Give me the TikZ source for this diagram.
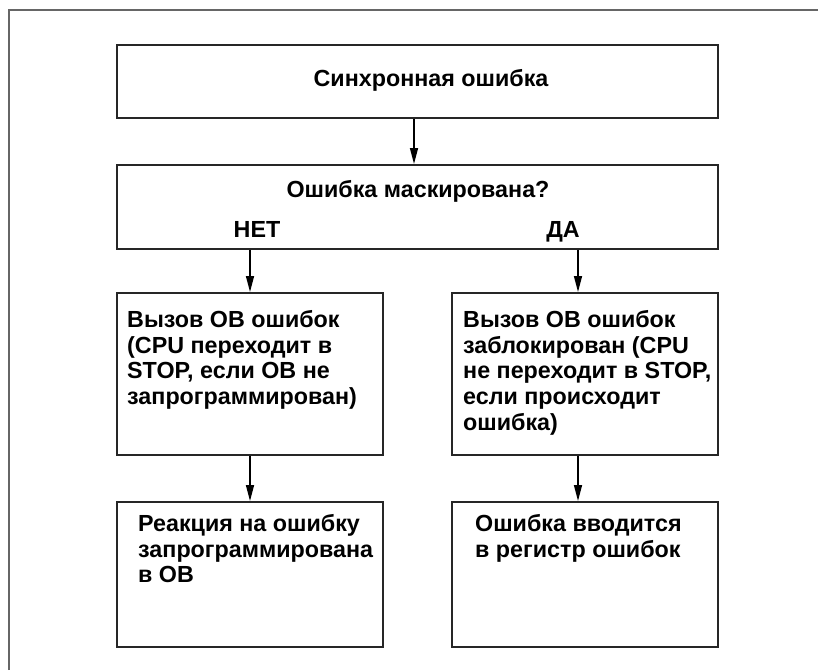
\documentclass[tikz,border=0pt]{standalone}
\usepackage{fontspec}
\setmainfont{Liberation Sans}
\usetikzlibrary{arrows.meta}
\begin{document}
\begin{tikzpicture}[x=1pt,y=-1pt,
  box/.style={draw=black!85, line width=1.6pt, rectangle, inner sep=0pt, anchor=north west},
  txt/.style={inner sep=0pt, anchor=north west, align=left, font=\fontsize{23.3}{25.8}\selectfont\bfseries},
  ctxt/.style={inner sep=0pt, anchor=base, font=\fontsize{23.3}{25.8}\selectfont\bfseries},
  arr/.style={line width=1.5pt, -{Triangle[length=16pt,width=8pt]}},
  frame/.style={draw=black!60, line width=1.2pt}]
\useasboundingbox (0,0) rectangle (818,670);
\draw[frame] (9,670) -- (9,10) -- (818,10);
% boxes
\node[box, minimum width=601pt, minimum height=73pt] (s) at (116,44) {};
\node[box, minimum width=601pt, minimum height=84pt] (q) at (116,164) {};
\node[box, minimum width=266pt, minimum height=162pt] (b1) at (116,292) {};
\node[box, minimum width=266pt, minimum height=162pt] (b2) at (451,292) {};
\node[box, minimum width=266pt, minimum height=145pt] (c1) at (116,501) {};
\node[box, minimum width=266pt, minimum height=145pt] (c2) at (451,501) {};
% texts
\node[ctxt] (ts) at (431,86) {Синхронная ошибка};
\node[ctxt] (tq) at (418,197) {Ошибка маскирована?};
\node[ctxt] (tn) at (257,237) {НЕТ};
\node[ctxt] (td) at (563,237) {ДА};
\node[txt] (t1) at (127,310) {Вызов ОВ ошибок\\(CPU переходит в\\STOP, если ОВ не\\запрограммирован)};
\node[txt] (t2) at (463,310) {Вызов ОВ ошибок\\заблокирован (CPU\\не переходит в STOP,\\если происходит\\ошибка)};
\node[txt] (t3) at (138,514) {Реакция на ошибку\\запрограммирована\\в ОВ};
\node[txt] (t4) at (475,514) {Ошибка вводится\\в регистр ошибок};
% arrows
\coordinate (ta) at (414,0);
\coordinate (la) at (250,0);
\coordinate (ra) at (578,0);
\draw[arr] (s.south -| ta) -- (q.north -| ta);
\draw[arr] (q.south -| la) -- (b1.north -| la);
\draw[arr] (q.south -| ra) -- (b2.north -| ra);
\draw[arr] (b1.south -| la) -- (c1.north -| la);
\draw[arr] (b2.south -| ra) -- (c2.north -| ra);
\end{tikzpicture}
\end{document}
